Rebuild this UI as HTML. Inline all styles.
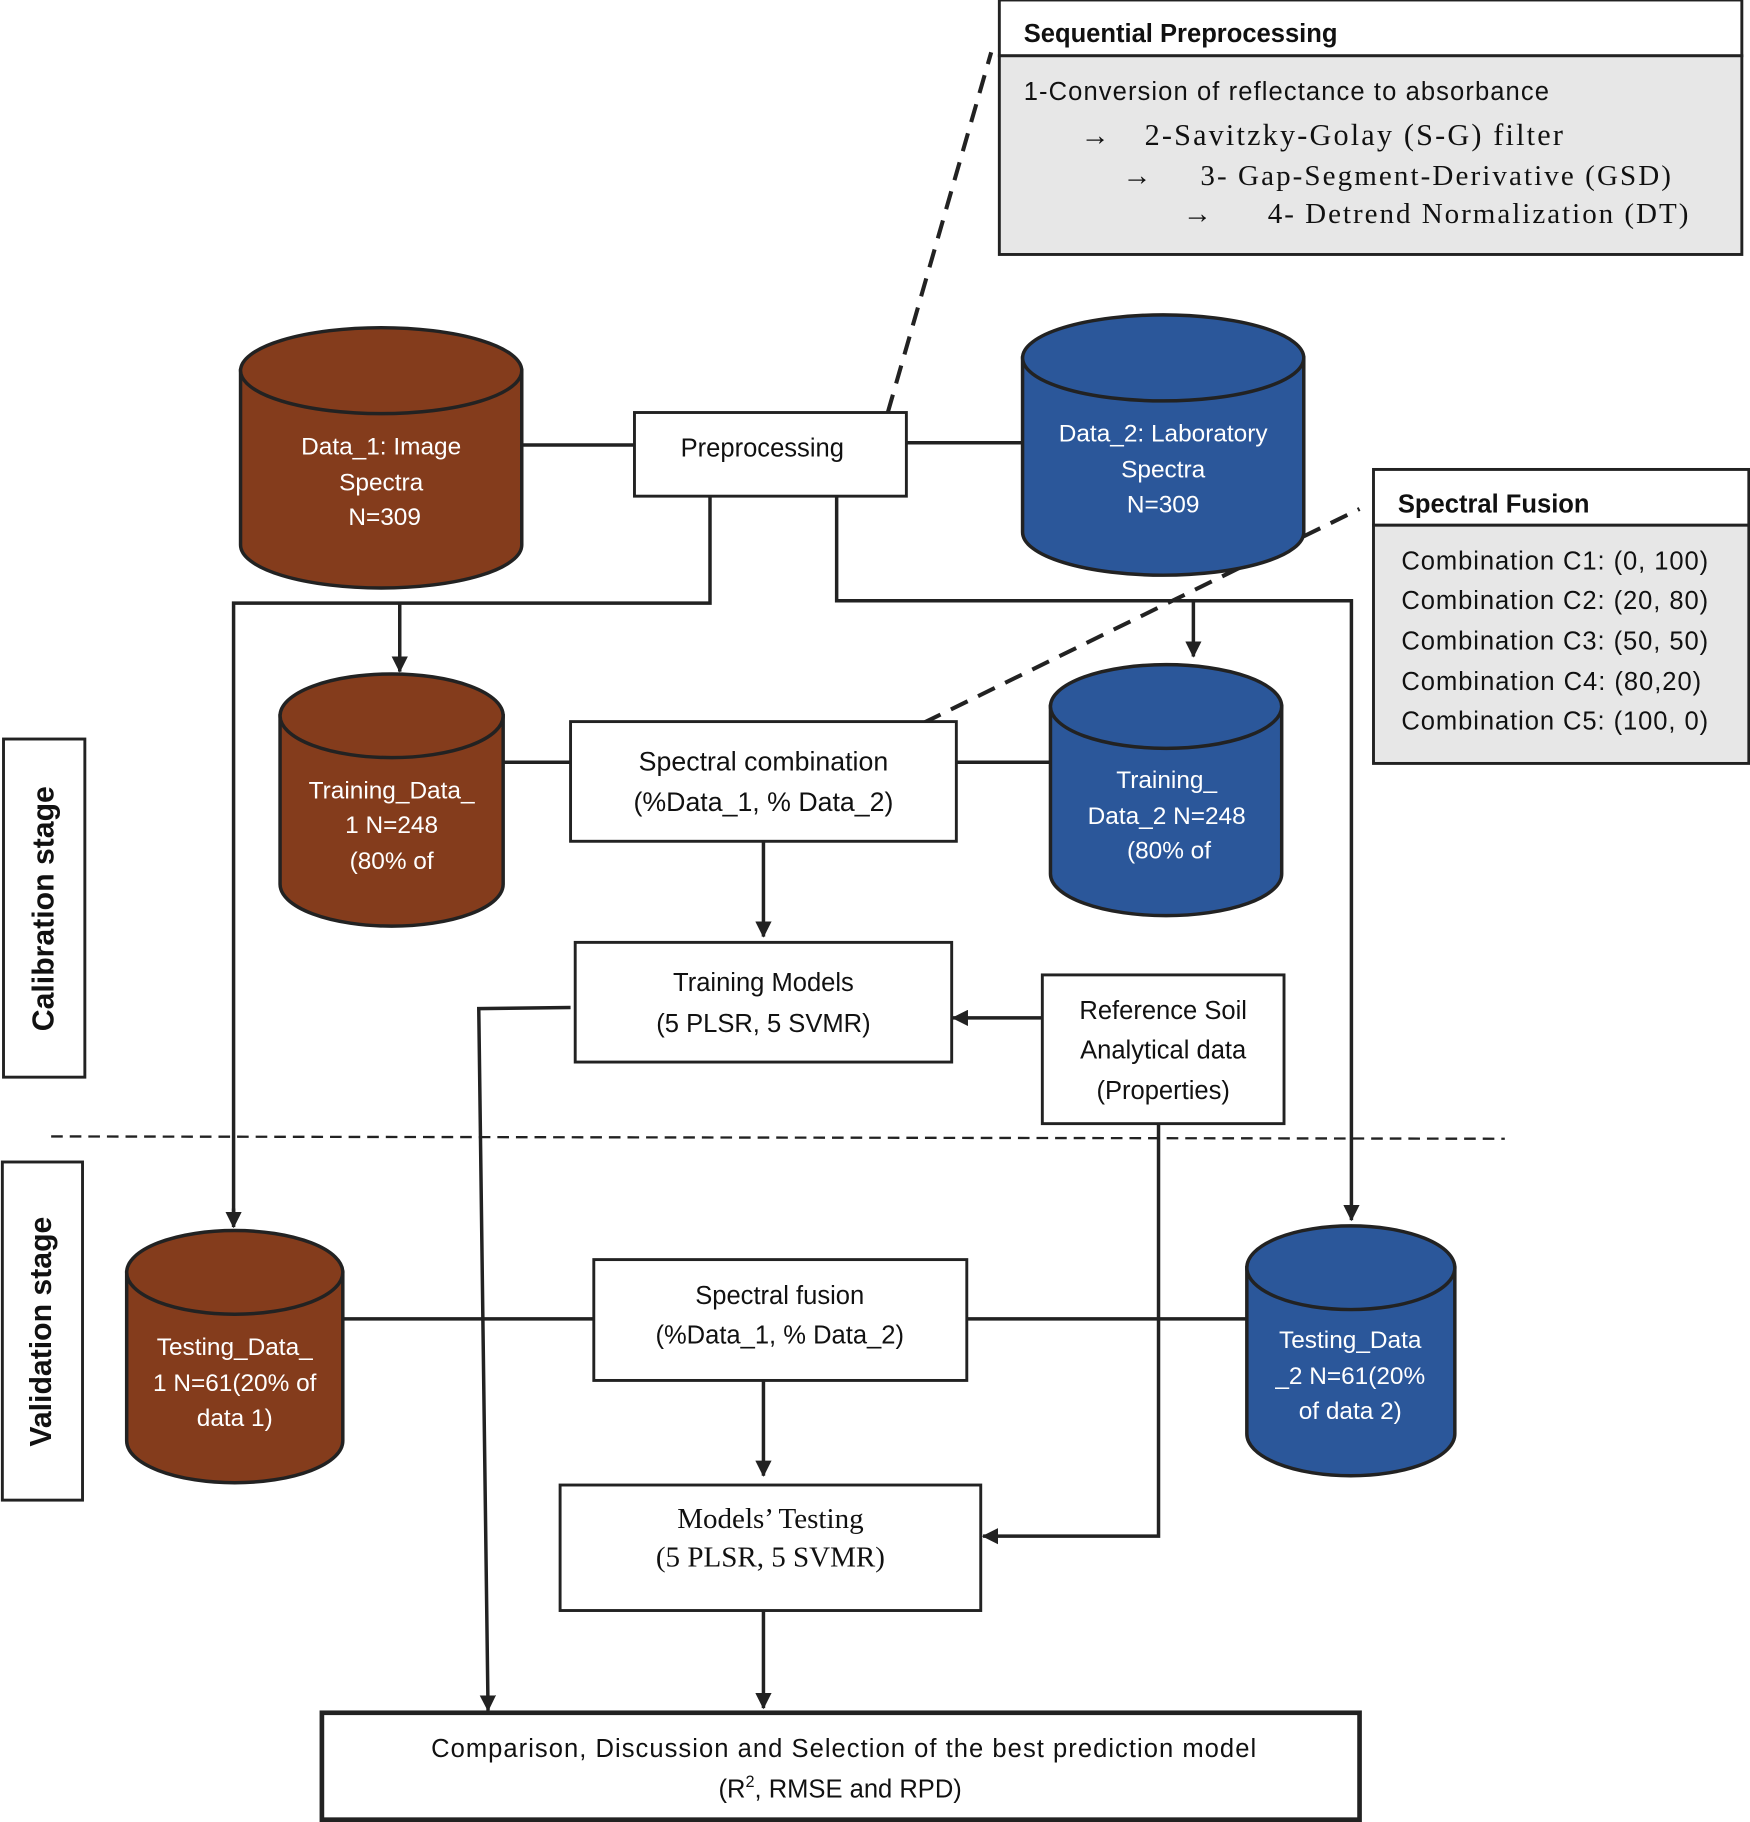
<!DOCTYPE html>
<html><head><meta charset="utf-8"><style>
html,body{margin:0;padding:0;background:#fff;}
svg{display:block}
.s{font-family:"Liberation Sans",sans-serif;}
.r{font-family:"Liberation Serif",serif;}
</style></head><body>
<svg width="1750" height="1822" viewBox="0 0 1506 1568" xmlns="http://www.w3.org/2000/svg">
<defs>
<marker id="a" markerWidth="14" markerHeight="14" refX="13" refY="7" orient="auto" markerUnits="userSpaceOnUse" viewBox="0 0 14 14"><path d="M0,0 L14,7 L0,14 z" fill="#222"/></marker>
</defs>
<g stroke="#222" stroke-width="3" fill="none">
<line x1="449" y1="383" x2="546" y2="383"/>
<line x1="780" y1="381" x2="880" y2="381"/>
<polyline points="611,427 611,519 201,519 201,1045"/>
<line x1="201" y1="1040" x2="201" y2="1056" marker-end="url(#a)"/>
<line x1="344" y1="519" x2="344" y2="578" marker-end="url(#a)"/>
<polyline points="720,427 720,517 1163,517 1163,1050" marker-end="url(#a)"/>
<line x1="1027" y1="517" x2="1027" y2="565" marker-end="url(#a)"/>
<line x1="433" y1="656" x2="491" y2="656"/>
<line x1="823" y1="656" x2="904" y2="656"/>
<line x1="657" y1="724" x2="657" y2="806" marker-end="url(#a)"/>
<line x1="897" y1="876" x2="820" y2="876" marker-end="url(#a)"/>
<polyline points="491,867 412,868 420,1472" marker-end="url(#a)"/>
<polyline points="997,967 997,1322 846,1322" marker-end="url(#a)"/>
<line x1="295" y1="1135" x2="511" y2="1135"/>
<line x1="832" y1="1135" x2="1073" y2="1135"/>
<line x1="657" y1="1188" x2="657" y2="1270" marker-end="url(#a)"/>
<line x1="657" y1="1386" x2="657" y2="1470" marker-end="url(#a)"/>
</g>
<g stroke="#222" stroke-width="3.5" stroke-dasharray="16,10" fill="none">
<line x1="764" y1="355" x2="853" y2="45"/>
<line x1="795" y1="622" x2="1170" y2="438"/>
</g>
<line x1="44" y1="978" x2="1295" y2="980" stroke="#222" stroke-width="2" stroke-dasharray="10,6"/>

<g stroke="#222" stroke-width="3">
<path d="M207,319 L207,469 A121,37 0 0 0 449,469 L449,319 Z" fill="#843c1c"/>
<ellipse cx="328" cy="319" rx="121" ry="37" fill="#843c1c"/>
<path d="M880,308 L880,458 A121,37 0 0 0 1122,458 L1122,308 Z" fill="#2b579a"/>
<ellipse cx="1001" cy="308" rx="121" ry="37" fill="#2b579a"/>
<path d="M241,616 L241,761 A96,36 0 0 0 433,761 L433,616 Z" fill="#843c1c"/>
<ellipse cx="337" cy="616" rx="96" ry="36" fill="#843c1c"/>
<path d="M904,608 L904,752 A99.5,36 0 0 0 1103,752 L1103,608 Z" fill="#2b579a"/>
<ellipse cx="1003.5" cy="608" rx="99.5" ry="36" fill="#2b579a"/>
<path d="M109,1095 L109,1240 A93,36 0 0 0 295,1240 L295,1095 Z" fill="#843c1c"/>
<ellipse cx="202" cy="1095" rx="93" ry="36" fill="#843c1c"/>
<path d="M1073,1091 L1073,1234 A89.5,36 0 0 0 1252,1234 L1252,1091 Z" fill="#2b579a"/>
<ellipse cx="1162.5" cy="1091" rx="89.5" ry="36" fill="#2b579a"/>
</g>
<g class="s" fill="#fff" font-size="21" text-anchor="middle">
<text x="328" y="391">Data_1: Image</text><text x="328" y="422">Spectra</text><text x="331" y="452">N=309</text>
<text x="1001" y="380">Data_2: Laboratory</text><text x="1001" y="411">Spectra</text><text x="1001" y="441">N=309</text>
<text x="337" y="687">Training_Data_</text><text x="337" y="717">1 N=248</text><text x="337" y="748">(80% of</text>
<text x="1004" y="678">Training_</text><text x="1004" y="709">Data_2 N=248</text><text x="1006" y="739">(80% of</text>
<text x="202" y="1166">Testing_Data_</text><text x="202" y="1197">1 N=61(20% of</text><text x="202" y="1227">data  1)</text>
<text x="1162" y="1160">Testing_Data</text><text x="1162" y="1191">_2 N=61(20%</text><text x="1162" y="1221">of data  2)</text>
</g>

<g stroke="#222" stroke-width="2.5" fill="#fff">
<rect x="860" y="0" width="639" height="48"/>
<rect x="860" y="48" width="639" height="171" fill="#e7e7e7"/>
<rect x="546" y="355" width="234" height="72"/>
<rect x="1182" y="404" width="323" height="48"/>
<rect x="1182" y="452" width="323" height="205" fill="#e7e7e7"/>
<rect x="491" y="621" width="332" height="103"/>
<rect x="495" y="811" width="324" height="103"/>
<rect x="897" y="839" width="208" height="128"/>
<rect x="511" y="1084" width="321" height="104"/>
<rect x="482" y="1278" width="362" height="108"/>
<rect x="3" y="636" width="70" height="291"/>
<rect x="2" y="1000" width="69" height="291"/>
</g>
<rect x="277" y="1474" width="893" height="92" stroke="#222" stroke-width="4" fill="#fff"/>

<g class="s" fill="#111" font-size="22">
<text x="881" y="36" font-weight="bold">Sequential Preprocessing</text>
<text x="881" y="86" textLength="452">1-Conversion of reflectance to absorbance</text>
<text x="1203" y="441" font-weight="bold">Spectral Fusion</text>
<text x="1206" y="490" textLength="264">Combination C1: (0, 100)</text>
<text x="1206" y="524" textLength="264">Combination C2: (20, 80)</text>
<text x="1206" y="559" textLength="264">Combination C3: (50, 50)</text>
<text x="1206" y="594" textLength="258">Combination C4: (80,20)</text>
<text x="1206" y="628" textLength="264">Combination C5: (100, 0)</text>
</g>
<g class="r" fill="#111" font-size="25">
<text x="930" y="125">→</text>
<text x="985" y="125" textLength="360" font-size="26">2-Savitzky-Golay (S-G) filter</text>
<text x="966" y="159">→</text>
<text x="1033" y="159" textLength="405">3- Gap-Segment-Derivative (GSD)</text>
<text x="1018" y="192">→</text>
<text x="1091" y="192" textLength="362">4- Detrend Normalization (DT)</text>
</g>
<g class="s" fill="#111" font-size="22" text-anchor="middle">
<text x="656" y="393">Preprocessing</text>
<text x="657" y="663" font-size="23">Spectral combination</text><text x="657" y="698" font-size="23">(%Data_1, % Data_2)</text>
<text x="657" y="853">Training Models</text><text x="657" y="888">(5 PLSR, 5 SVMR)</text>
<text x="1001" y="877">Reference Soil</text><text x="1001" y="911">Analytical data</text><text x="1001" y="946">(Properties)</text>
<text x="671" y="1122">Spectral fusion</text><text x="671" y="1156">(%Data_1, % Data_2)</text>
<text x="726" y="1512" textLength="710">Comparison, Discussion and Selection of the best prediction model</text>
<text x="723" y="1547">(R<tspan font-size="14" dy="-9">2</tspan><tspan dy="9">, RMSE and RPD)</tspan></text>
</g>
<g class="r" fill="#111" font-size="25" text-anchor="middle">
<text x="663" y="1315">Models’ Testing</text><text x="663" y="1348">(5 PLSR, 5 SVMR)</text>
</g>
<g class="s" fill="#111" font-size="26" font-weight="bold" text-anchor="middle">
<text transform="translate(46,782) rotate(-90)">Calibration stage</text>
<text transform="translate(44,1146) rotate(-90)">Validation stage</text>
</g>
</svg>
</body></html>
